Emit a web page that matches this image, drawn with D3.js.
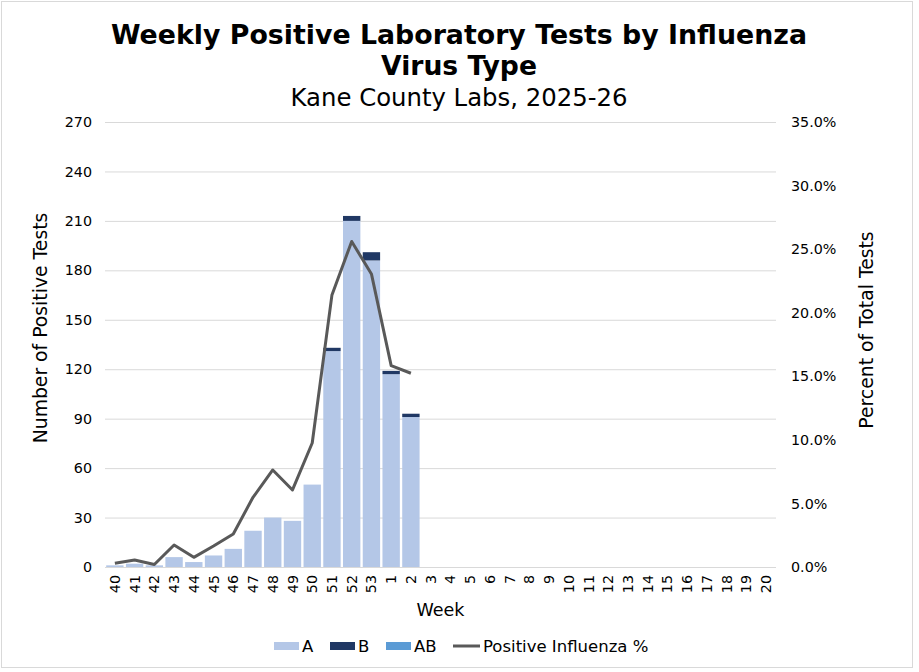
<!DOCTYPE html>
<html>
<head>
<meta charset="utf-8">
<script src="https://cdn.jsdelivr.net/npm/d3@7"></script>
<style>
  body { margin: 0; background: #fff; }
  svg { display: block; font-family: Verdana, "DejaVu Sans", sans-serif; }
</style>
</head>
<body>
<svg width="919" height="672"></svg>
<script>
// week labels (season weeks 40-53, then 1-20)
const weeks = ["40","41","42","43","44","45","46","47","48","49","50","51","52","53",
  "1","2","3","4","5","6","7","8","9","10","11","12","13","14","15","16","17","18","19","20"];

// positive tests by type (only reported weeks so far)
const fluA  = [1, 2, 1, 6, 3, 7, 11, 22, 30, 28, 50, 131, 210, 186, 117, 91];
const fluB  = [0, 0, 0, 0, 0, 0, 0, 0, 0, 0, 0, 2, 3, 5, 2, 2];
const fluAB = [0, 0, 0, 0, 0, 0, 0, 0, 0, 0, 0, 0, 0, 0, 0, 0];

// percent of total tests positive for influenza
const pctPositive = [0.3, 0.55, 0.2, 1.73, 0.76, 1.65, 2.6, 5.48, 7.63, 6.06, 9.75,
  21.4, 25.6, 23.05, 15.84, 15.24];

const countTicks = [0, 30, 60, 90, 120, 150, 180, 210, 240, 270];
const pctTicks = [0, 5, 10, 15, 20, 25, 30, 35];

const svg = d3.select("svg");
const width = 919, height = 672;
const margin = { left: 105, right: 143, top: 122, bottom: 105 };
const plotW = width - margin.left - margin.right;
const plotH = height - margin.top - margin.bottom;

const colors = { A: "#b4c7e7", B: "#203864", AB: "#5b9bd5", line: "#595959", grid: "#d9d9d9" };
const tickFont = "14.3px";

// outer chart border
svg.append("rect")
  .attr("x", 1.5).attr("y", 1.5)
  .attr("width", 911).attr("height", 666)
  .attr("fill", "#fff").attr("stroke", colors.grid);

const g = svg.append("g").attr("transform", `translate(${margin.left},${margin.top})`);

const x = d3.scaleBand().domain(weeks).range([0, plotW]).paddingInner(0.12).paddingOuter(0.06);
const y = d3.scaleLinear().domain([0, 270]).range([plotH, 0]);
const y2 = d3.scaleLinear().domain([0, 35]).range([plotH, 0]);

// gridlines
g.append("g")
  .selectAll("line")
  .data(countTicks)
  .join("line")
  .attr("x1", 0).attr("x2", plotW)
  .attr("y1", d => y(d) + 0.5).attr("y2", d => y(d) + 0.5)
  .attr("stroke", colors.grid).attr("stroke-width", 1);

// stacked bars
const rows = fluA.map((a, i) => ({ week: weeks[i], A: a, B: fluB[i], AB: fluAB[i] }));
const stacked = d3.stack().keys(["A", "B", "AB"])(rows);

g.append("g")
  .selectAll("g")
  .data(stacked)
  .join("g")
  .attr("fill", d => colors[d.key])
  .selectAll("rect")
  .data(d => d)
  .join("rect")
  .attr("x", d => x(d.data.week))
  .attr("width", x.bandwidth())
  .attr("y", d => y(d[1]))
  .attr("height", d => y(d[0]) - y(d[1]));

// percent positive line
const line = d3.line()
  .x((d, i) => x(weeks[i]) + x.bandwidth() / 2)
  .y(d => y2(d));

g.append("path")
  .datum(pctPositive)
  .attr("d", line)
  .attr("fill", "none")
  .attr("stroke", colors.line)
  .attr("stroke-width", 3)
  .attr("stroke-linejoin", "round");

// left axis
const leftAxis = g.append("g")
  .call(d3.axisLeft(y).tickValues(countTicks).tickSize(0).tickPadding(13));
leftAxis.select(".domain").remove();
leftAxis.selectAll("text").style("font-size", tickFont).attr("fill", "#000")
  .style("font-family", "Verdana, 'DejaVu Sans', sans-serif");

// right axis
const rightAxis = g.append("g")
  .attr("transform", `translate(${plotW},0)`)
  .call(d3.axisRight(y2).tickValues(pctTicks).tickSize(0).tickPadding(15)
    .tickFormat(d => d.toFixed(1) + "%"));
rightAxis.select(".domain").remove();
rightAxis.selectAll("text").style("font-size", tickFont).attr("fill", "#000")
  .style("font-family", "Verdana, 'DejaVu Sans', sans-serif");

// bottom axis, rotated labels
const bottomAxis = g.append("g")
  .attr("transform", `translate(0,${plotH})`)
  .call(d3.axisBottom(x).tickSize(0));
bottomAxis.select(".domain").remove();
bottomAxis.selectAll("text")
  .style("font-size", tickFont).attr("fill", "#000")
  .style("font-family", "Verdana, 'DejaVu Sans', sans-serif")
  .attr("transform", "rotate(-90)")
  .attr("text-anchor", "end")
  .attr("dy", "0.35em")
  .attr("x", -8)
  .attr("y", 0);

// axis titles
svg.append("text")
  .attr("transform", "translate(47,328) rotate(-90)")
  .attr("text-anchor", "middle")
  .style("font-size", "18.8px")
  .text("Number of Positive Tests");

svg.append("text")
  .attr("transform", "translate(873,330) rotate(-90)")
  .attr("text-anchor", "middle")
  .style("font-size", "18.8px")
  .text("Percent of Total Tests");

svg.append("text")
  .attr("x", margin.left + plotW / 2)
  .attr("y", 616)
  .attr("text-anchor", "middle")
  .style("font-size", "17.5px")
  .text("Week");

// titles
const title = [
  { text: "Weekly Positive Laboratory Tests by Influenza", y: 44, w: 696, size: 27, bold: true },
  { text: "Virus Type", y: 75, w: 156, size: 27, bold: true },
  { text: "Kane County Labs, 2025-26", y: 106, w: 337, size: 25, bold: false }
];
title.forEach(t => {
  svg.append("text")
    .attr("x", 459)
    .attr("y", t.y)
    .attr("text-anchor", "middle")
    .attr("textLength", t.w)
    .attr("lengthAdjust", "spacingAndGlyphs")
    .style("font-family", "'DejaVu Sans', sans-serif")
    .style("font-weight", t.bold ? "bold" : "normal")
    .style("font-size", t.size + "px")
    .text(t.text);
});

// legend
const legendItems = [
  { label: "A", type: "rect", color: colors.A, x: 274 },
  { label: "B", type: "rect", color: colors.B, x: 330 },
  { label: "AB", type: "rect", color: colors.AB, x: 386 },
  { label: "Positive Influenza %", type: "line", color: colors.line, x: 453 }
];
const legend = svg.append("g").attr("transform", "translate(0,646)");
legendItems.forEach(item => {
  if (item.type === "rect") {
    legend.append("rect")
      .attr("x", item.x).attr("y", -4)
      .attr("width", 25).attr("height", 8)
      .attr("fill", item.color);
  } else {
    legend.append("line")
      .attr("x1", item.x).attr("x2", item.x + 27)
      .attr("y1", 0).attr("y2", 0)
      .attr("stroke", item.color).attr("stroke-width", 3);
  }
  legend.append("text")
    .attr("x", item.x + (item.type === "rect" ? 28 : 30))
    .attr("y", 0)
    .attr("dy", "0.35em")
    .style("font-size", "16.5px")
    .text(item.label);
});
</script>
</body>
</html>
